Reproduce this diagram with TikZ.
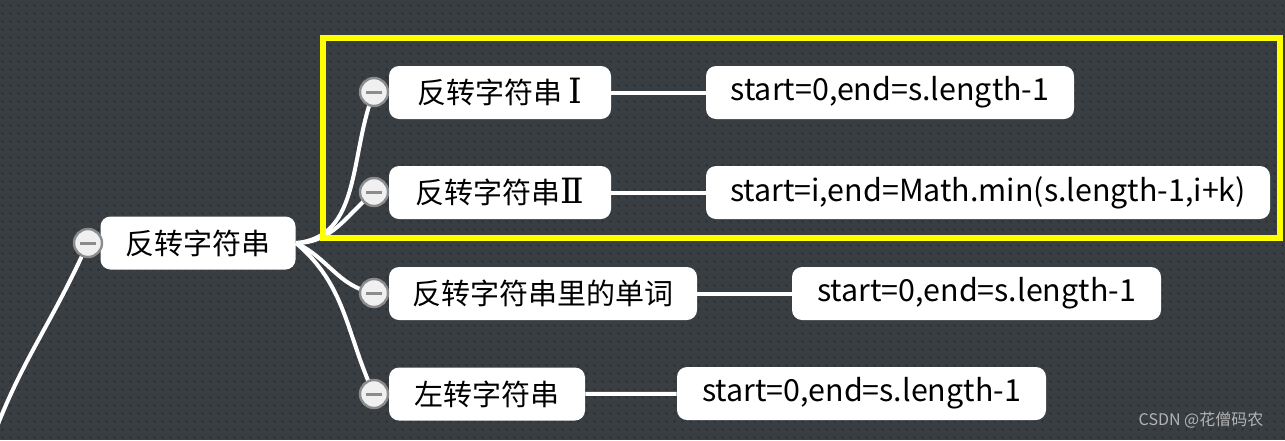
\documentclass[tikz,border=0pt]{standalone}
\usepackage{fontspec}
\setmainfont{Noto Sans CJK SC}
\newfontfamily\romfont[Scale=1.2]{DejaVu Serif}
\usetikzlibrary{patterns.meta}

\definecolor{bgc}{HTML}{393E43}
\definecolor{dotc}{HTML}{2D3136}
\definecolor{knobc}{HTML}{8C8C8C}
\definecolor{markc}{HTML}{FFFF00}
\definecolor{wmc}{HTML}{B4B4B4}

\tikzdeclarepattern{
  name=mapdots,
  type=uncolored,
  bounding box={(0pt,0pt) and (4pt,4pt)},
  tile size={(4pt,4pt)},
  code={\pgfpathcircle{\pgfpoint{2pt}{2pt}}{0.8pt}\pgfusepath{fill}}
}

\tikzset{
  topic/.style={fill=white, rounded corners=5pt, minimum height=26.5pt, inner xsep=0pt,
    text=black, font=\fontsize{14.5}{16}\selectfont},
  leaf/.style={topic, font=\fontsize{15.2}{16}\selectfont},
  knob/.style={circle, fill=white!94!black, draw=knobc, line width=1.2pt, minimum size=14pt,
    inner sep=0pt, path picture={\draw[knobc, line width=1.5pt]
      ([xshift=-4pt]path picture bounding box.center) -- ([xshift=4pt]path picture bounding box.center);}},
  branch/.style={white, line width=2pt},
}

\begin{document}
\begin{tikzpicture}[x=0.5pt, y=-0.5pt]
    % background
    \fill[bgc] (0,0) rectangle (1285,440);
    \useasboundingbox (0,0) rectangle (1285,440);
    \fill[pattern=mapdots, pattern color=dotc] (0,0) rectangle (1285,440);

    \node[topic, minimum width=97.5pt] (root) at (198,243) {反转字符串};
    \node[knob] (kroot) at (88,243) {};
    \coordinate (up) at (-8,440);

    \node[topic, minimum width=111pt] (rev1) at (500,92.5) {反转字符串 {\romfont Ⅰ}};
    \node[topic, minimum width=111pt] (rev2) at (500,192.5) {反转字符串{\romfont Ⅱ}};
    \node[topic, minimum width=154pt] (revw) at (543,293.5) {反转字符串里的单词};
    \node[topic, minimum width=98pt] (lrot) at (487,394) {左转字符串};

    \node[leaf, minimum width=184pt] (rev1r) at (890,92.5) {start=0,end=s.length-1};
    \node[leaf, minimum width=282pt] (rev2r) at (988,192.5) {start=i,end=Math.min(s.length-1,i+k)};
    \node[leaf, minimum width=184.5pt] (revwr) at (976.5,293.5) {start=0,end=s.length-1};
    \node[leaf, minimum width=184.5pt] (lrotr) at (861.5,393.5) {start=0,end=s.length-1};

    % branches
    \draw[branch] (kroot) to[out=-115, in=70] (up);
    \draw[branch] (root.east) to[out=5, in=-112] (374,92);
    \draw[branch] (root.east) to[out=0, in=-140] (374,192);
    \draw[branch] (root.east) to[out=-25, in=170] (374,293);
    \draw[branch] (root.east) to[out=-40, in=115] (374,394);

    \draw[branch] (rev1) -- (rev1r);
    \draw[branch] (rev2) -- (rev2r);
    \draw[branch] (revw) -- (revwr);
    \draw[branch] (lrot) -- (lrotr);

    \node[knob] (k1) at (374,92) {};
    \node[knob] (k2) at (374,192) {};
    \node[knob] (kw) at (374,293) {};
    \node[knob] (kl) at (374,394) {};

    % highlight
    \node[draw=markc, line width=3pt, minimum width=478.5pt, minimum height=100pt,
      inner sep=0pt] (mark) at (801.5,138) {};

    \node[text=wmc, font=\fontsize{8}{9}\selectfont] (wm) at (1201,420) {CSDN @花僧码农};
\end{tikzpicture}
\end{document}
